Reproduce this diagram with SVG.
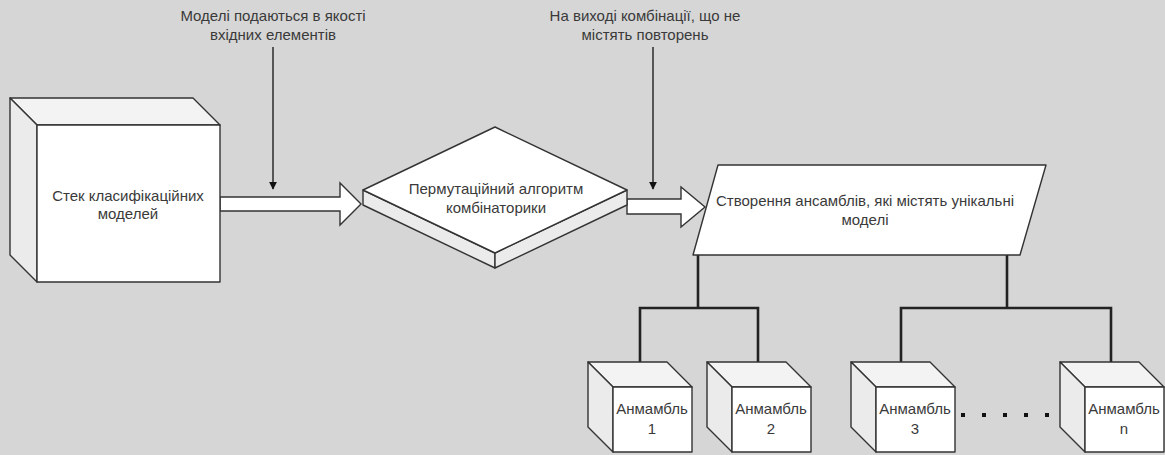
<svg xmlns="http://www.w3.org/2000/svg" width="1165" height="455" viewBox="0 0 1165 455">
  <defs>
    <style>
      .bg { fill: #d6d6d6; }
      .shape { stroke: #333; stroke-width: 1.4; stroke-linejoin: round; }
      .front { fill: #ffffff; }
      .top { fill: #f3f3f3; }
      .side { fill: #ebebeb; }
      .label { font-family: "Liberation Sans", Arial, sans-serif; font-size: 15px; fill: #3a3a3a; text-anchor: middle; }
      .thin { stroke: #111; stroke-width: 1.3; fill: none; }
      .tree { stroke: #222; stroke-width: 2.6; fill: none; stroke-linejoin: miter; }
      .block { fill: #ffffff; stroke: #333; stroke-width: 1.4; stroke-linejoin: miter; }
    </style>
    <marker id="head" viewBox="0 0 10 10" refX="9" refY="5" markerWidth="8" markerHeight="8" markerUnits="userSpaceOnUse" orient="auto">
      <path d="M0,0 L10,5 L0,10 Z" fill="#111"/>
    </marker>
  </defs>

  <rect class="bg" x="0" y="0" width="1165" height="455"/>

  <!-- connectors -->
  <g id="connectors">
    <!-- thin input pointers -->
    <line class="thin" x1="273" y1="47" x2="273" y2="189" marker-end="url(#head)"/>
    <line class="thin" x1="653" y1="47" x2="653" y2="189" marker-end="url(#head)"/>
    <!-- block arrows -->
    <path class="block" d="M220,197 H340 V183 L361,204 L340,225 V211 H220 Z"/>
    <path class="block" d="M627,199 H681 V187 L705,207 L681,227 V214 H627 Z"/>
    <!-- tree to ensembles -->
    <path class="tree" d="M698,255 V308 M640,362 V308 H758 V362"/>
    <path class="tree" d="M1007,255 V308 M901,362 V308 H1111 V362"/>
    <!-- ellipsis dots -->
    <g fill="#111">
      <rect x="961" y="413" width="4" height="4"/>
      <rect x="982" y="413" width="4" height="4"/>
      <rect x="1003" y="413" width="4" height="4"/>
      <rect x="1024" y="413" width="4" height="4"/>
      <rect x="1045" y="413" width="4" height="4"/>
    </g>
  </g>

  <!-- input annotation -->
  <g id="note-input">
    <text class="label" x="273" y="21">Моделі  подаються в якості</text>
    <text class="label" x="273" y="40">вхідних елементів</text>
  </g>

  <!-- output annotation -->
  <g id="note-output">
    <text class="label" x="645" y="21">На виході комбінації, що не</text>
    <text class="label" x="645" y="40">містять повторень</text>
  </g>

  <!-- stack of classifiers (cube) -->
  <g id="stack">
    <path class="shape top" d="M10,98 H193 L220,125 H37 Z"/>
    <path class="shape side" d="M10,98 L37,125 V282 L10,255 Z"/>
    <rect class="shape front" x="37" y="125" width="183" height="157"/>
    <text class="label" x="128" y="201">Стек класифікаційних</text>
    <text class="label" x="128" y="219">моделей</text>
  </g>

  <!-- permutation algorithm (raised rhombus) -->
  <g id="permutation">
    <path class="shape side" d="M363,190 L495,253 V268 L363,205 Z"/>
    <path class="shape side" d="M495,253 L627,190 V205 L495,268 Z"/>
    <path class="shape front" d="M363,190 L495,127 L627,190 L495,253 Z"/>
    <text class="label" x="496" y="194">Пермутаційний алгоритм</text>
    <text class="label" x="496" y="213">комбінаторики</text>
  </g>

  <!-- ensemble creation (parallelogram) -->
  <g id="ensembles">
    <path class="shape front" d="M718,165 H1046 L1020,255 H693 Z"/>
    <text class="label" x="865" y="206">Створення ансамблів, які містять унікальні</text>
    <text class="label" x="865" y="225">моделі</text>
  </g>

  <!-- ensemble cubes -->
  <g id="ensemble-1">
    <path class="shape top" d="M588,362 H667 L692,387 H613 Z"/>
    <path class="shape side" d="M588,362 L613,387 V452 L588,427 Z"/>
    <rect class="shape front" x="613" y="387" width="79" height="65"/>
    <text class="label" x="652" y="414">Анмамбль</text>
    <text class="label" x="652" y="434">1</text>
  </g>

  <g id="ensemble-2">
    <path class="shape top" d="M707,362 H786 L811,387 H732 Z"/>
    <path class="shape side" d="M707,362 L732,387 V452 L707,427 Z"/>
    <rect class="shape front" x="732" y="387" width="79" height="65"/>
    <text class="label" x="771" y="414">Анмамбль</text>
    <text class="label" x="771" y="434">2</text>
  </g>

  <g id="ensemble-3">
    <path class="shape top" d="M851,362 H930 L955,387 H876 Z"/>
    <path class="shape side" d="M851,362 L876,387 V452 L851,427 Z"/>
    <rect class="shape front" x="876" y="387" width="79" height="65"/>
    <text class="label" x="915" y="414">Анмамбль</text>
    <text class="label" x="915" y="434">3</text>
  </g>

  <g id="ensemble-n">
    <path class="shape top" d="M1060,362 H1139 L1164,387 H1085 Z"/>
    <path class="shape side" d="M1060,362 L1085,387 V452 L1060,427 Z"/>
    <rect class="shape front" x="1085" y="387" width="79" height="65"/>
    <text class="label" x="1124" y="414">Анмамбль</text>
    <text class="label" x="1124" y="434">n</text>
  </g>
</svg>
